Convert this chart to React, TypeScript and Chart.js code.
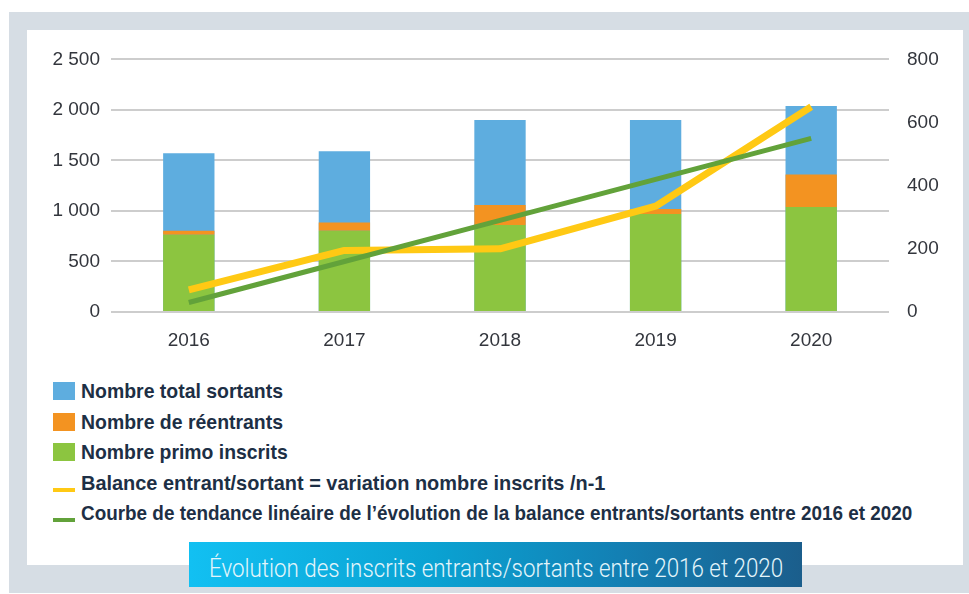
import React, { useEffect, useLayoutEffect, useRef, useState } from "react";
import { Chart, registerables } from "chart.js";

Chart.register(...registerables);

// ---- data ----
const years = ["2016", "2017", "2018", "2019", "2020"];
const totalSortants = [1570, 1590, 1900, 1900, 2040];
const reentrants = [40, 80, 200, 50, 320];
const primoInscrits = [765, 805, 860, 970, 1040];
const balance = [70, 195, 200, 335, 650];
const tendance = [30, 160, 290, 420, 550];
const leftTickLabels = ["0", "500", "1 000", "1 500", "2 000", "2 500"];
const rightTickLabels = ["0", "200", "400", "600", "800"];
const legendLabels = [
  "Nombre total sortants",
  "Nombre de réentrants",
  "Nombre primo inscrits",
  "Balance entrant/sortant = variation nombre inscrits /n-1",
  "Courbe de tendance linéaire de l’évolution de la balance entrants/sortants entre 2016 et 2020",
];
const titleText = "Évolution des inscrits entrants/sortants entre 2016 et 2020";

// ---- styles ----
const C_BLUE = "#5eaddf";
const C_ORANGE = "#f39321";
const C_GREEN = "#8cc540";
const C_YELLOW = "#ffc914";
const C_TREND = "#62a23a";
const legendColors = [C_BLUE, C_ORANGE, C_GREEN, C_YELLOW, C_TREND];
const legendKinds = ["box", "box", "box", "line", "line"];
const legendTextWidths = [202, 202, 207, 524, 831];
const TITLE_WIDTH = 574;
const BANNER_WIDTH = 613;
const FONT = "'Liberation Sans', Arial, Helvetica, sans-serif";
const TICK_COLOR = "#33363d";

export default function App() {
  const canvasRef = useRef<HTMLCanvasElement | null>(null);
  const legendRefs = useRef<(HTMLSpanElement | null)[]>([]);
  const titleRef = useRef<HTMLSpanElement | null>(null);
  const [legendScales, setLegendScales] = useState<number[]>(legendLabels.map(() => 1));
  const [titleScale, setTitleScale] = useState(1);

  useLayoutEffect(() => {
    setLegendScales(
      legendLabels.map((_, i) => {
        const el = legendRefs.current[i];
        return el && el.offsetWidth ? legendTextWidths[i] / el.offsetWidth : 1;
      })
    );
    if (titleRef.current && titleRef.current.offsetWidth)
      setTitleScale(TITLE_WIDTH / titleRef.current.offsetWidth);
  }, []);

  useEffect(() => {
    const canvas = canvasRef.current;
    if (!canvas) return;
    Chart.defaults.font.family = FONT;
    const tickFont = { size: 19, family: FONT };
    const chart = new Chart(canvas, {
      type: "bar",
      data: {
        labels: years,
        datasets: [
          {
            type: "line",
            label: legendLabels[4],
            data: tendance,
            yAxisID: "y1",
            borderColor: C_TREND,
            backgroundColor: C_TREND,
            borderWidth: 5,
            pointRadius: 0,
            tension: 0,
            borderCapStyle: "butt",
            order: 1,
          } as any,
          {
            type: "line",
            label: legendLabels[3],
            data: balance,
            yAxisID: "y1",
            borderColor: C_YELLOW,
            backgroundColor: C_YELLOW,
            borderWidth: 7,
            pointRadius: 0,
            tension: 0,
            borderCapStyle: "butt",
            borderJoinStyle: "round",
            order: 2,
          } as any,
          {
            type: "bar",
            label: legendLabels[2],
            data: primoInscrits,
            yAxisID: "y",
            backgroundColor: C_GREEN,
            stack: "entrants",
            order: 3,
          },
          {
            type: "bar",
            label: legendLabels[1],
            data: reentrants,
            yAxisID: "y",
            backgroundColor: C_ORANGE,
            stack: "entrants",
            order: 3,
          },
          {
            type: "bar",
            label: legendLabels[0],
            data: totalSortants,
            yAxisID: "y",
            backgroundColor: C_BLUE,
            stack: "sortants",
            order: 4,
          },
        ],
      },
      options: {
        animation: false,
        responsive: false,
        maintainAspectRatio: false,
        devicePixelRatio: 1,
        layout: { padding: { top: 27, left: 0, right: 0, bottom: 0 } },
        plugins: { legend: { display: false }, tooltip: { enabled: false } },
        datasets: {
          bar: { grouped: false, categoryPercentage: 1, barPercentage: 0.33 },
        } as any,
        scales: {
          x: {
            grid: { display: false, drawTicks: false },
            border: { display: false },
            ticks: { color: TICK_COLOR, font: tickFont, padding: 17 },
            afterFit: (s: any) => {
              s.height = 40;
            },
          },
          y: {
            position: "left",
            stacked: true,
            min: 0,
            max: 2500,
            ticks: {
              stepSize: 500,
              padding: 11,
              color: TICK_COLOR,
              font: tickFont,
              callback: (_v: any, i: number) => leftTickLabels[i],
            },
            grid: { color: "#cdcdcd", lineWidth: 2, drawTicks: false },
            border: { display: false },
            afterFit: (s: any) => {
              s.width = 84;
            },
          },
          y1: {
            position: "right",
            min: 0,
            max: 800,
            ticks: {
              stepSize: 200,
              padding: 18,
              color: TICK_COLOR,
              font: tickFont,
              callback: (_v: any, i: number) => rightTickLabels[i],
            },
            grid: { display: false, drawTicks: false },
            border: { display: false },
            afterFit: (s: any) => {
              s.width = 74;
            },
          },
        },
      },
    });
    return () => chart.destroy();
  }, []);

  return (
    <div
      style={{
        position: "absolute",
        left: 0,
        top: 0,
        width: 969,
        height: 594,
        background: "#ffffff",
        overflow: "hidden",
        fontFamily: FONT,
      }}
    >
      <div
        style={{
          position: "absolute",
          left: 9,
          top: 12,
          width: 960,
          height: 581,
          background: "#d6dde4",
        }}
      />
      <div
        style={{
          position: "absolute",
          left: 27,
          top: 30,
          width: 936,
          height: 535,
          background: "#ffffff",
        }}
      />
      <canvas
        ref={canvasRef}
        width={936}
        height={322}
        style={{ position: "absolute", left: 27, top: 30, width: 936, height: 322, display: "block" }}
      />
      {legendLabels.map((label, i) => {
        const center = 391 + i * 30.5;
        return (
          <div key={label} style={{ position: "absolute", left: 0, top: center - 15, height: 30, width: 969 }}>
            {legendKinds[i] === "box" ? (
              <div
                style={{
                  position: "absolute",
                  left: 53,
                  top: 6,
                  width: 22,
                  height: 18,
                  background: legendColors[i],
                }}
              />
            ) : (
              <div
                style={{
                  position: "absolute",
                  left: 53,
                  top: 20,
                  width: 22,
                  height: 4,
                  background: legendColors[i],
                }}
              />
            )}
            <span
              ref={(el) => {
                legendRefs.current[i] = el;
              }}
              style={{
                position: "absolute",
                left: 81,
                top: 0,
                lineHeight: "30px",
                fontSize: 20.5,
                fontWeight: 700,
                color: "#1d2f45",
                whiteSpace: "nowrap",
                display: "inline-block",
                transformOrigin: "0 50%",
                transform: `scaleX(${legendScales[i]})`,
              }}
            >
              {label}
            </span>
          </div>
        );
      })}
      <div
        style={{
          position: "absolute",
          left: 189,
          top: 542,
          width: BANNER_WIDTH,
          height: 45,
          background: "linear-gradient(90deg, #12c0f2 0%, #0aa2d2 40%, #1380b4 70%, #1b5e8c 100%)",
          overflow: "hidden",
        }}
      >
        <span
          ref={titleRef}
          style={{
            position: "absolute",
            left: (BANNER_WIDTH - TITLE_WIDTH) / 2,
            top: 7,
            lineHeight: "40px",
            fontFamily: "Roboto, 'Open Sans', sans-serif",
            fontWeight: 300,
            fontSize: 25,
            color: "#e3f5fb",
            whiteSpace: "nowrap",
            display: "inline-block",
            transformOrigin: "0 50%",
            transform: `scaleX(${titleScale})`,
          }}
        >
          {titleText}
        </span>
      </div>
    </div>
  );
}
